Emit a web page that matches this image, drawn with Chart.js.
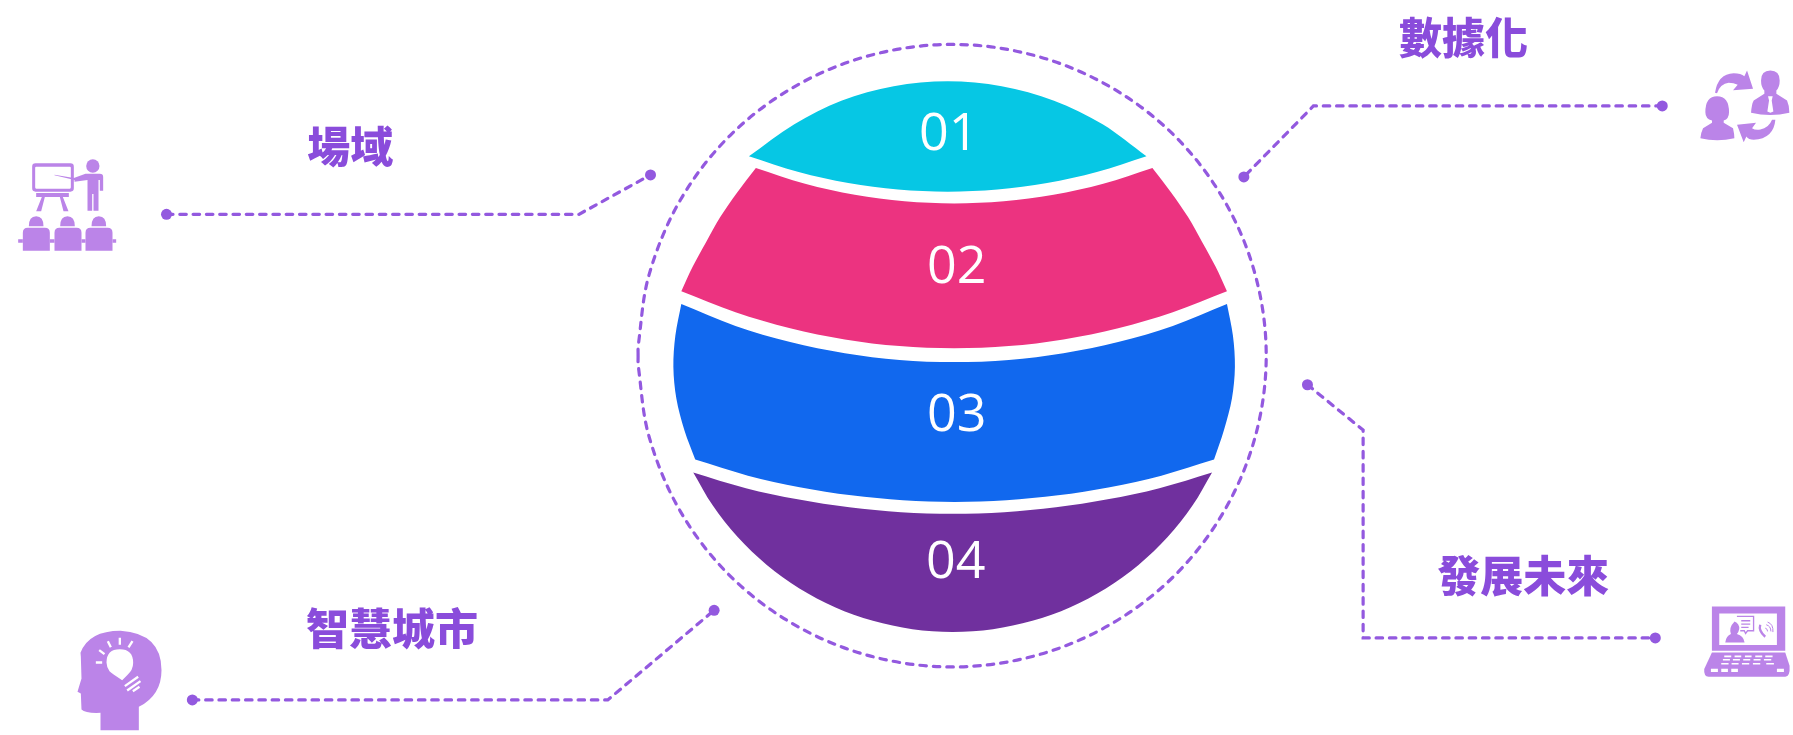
<!DOCTYPE html>
<html lang="zh-Hant">
<head>
<meta charset="utf-8">
<title>數據化</title>
<script src="https://cdn.jsdelivr.net/npm/chart.js@4/dist/chart.umd.min.js"></script>
<style>
    html, body { margin: 0; padding: 0; background: #fff; overflow: hidden; }
    canvas { display: block; }
</style>
</head>
<body>
<canvas id="grafica" width="1793" height="735"></canvas>
<script>
// bandas de la esfera (esquina repetida = esquina viva)
const banda1 = [[748,153],[748,153],[793.7,120.5],[841,96.6],[893.7,82],[948,77],[1002.3,82],[1055,96.6],[1103.9,120.5],[1148,153],[1148,153],
    [1098,169],[1048,180.2],[998,186.8],[948,189],[898,186.8],[848,180.2],[798,169],[748,153]];
const banda2 = [[755,165],[755,165],[804.5,181],[854.5,192.2],[904.5,198.8],[954.5,201],[1004.5,198.8],[1054.5,192.2],[1104.5,181],[1154,165],[1154,165],
    [1173,190],[1190,215],[1204,240],[1217.5,265],[1229,290],[1229,290],
    [1174.5,311.3],[1119.5,327.6],[1064.5,339],[1009.5,345.8],[954.5,348],[899.5,345.8],[844.5,339],[789.5,327.6],[734.5,311.3],[680,290],[680,290],
    [691.5,265],[705,240],[719,215],[736,190],[755,165]];
const banda3 = [[680,303],[680,303],[734.5,325.3],[789.5,341.6],[844.5,353],[899.5,359.8],[954.5,362],[1009.5,359.8],[1064.5,353],[1119.5,341.6],[1174.5,325.3],[1229,303],[1229,303],
    [1235,335],[1237,367],[1234,399],[1226,431],[1216,461],[1216,461],
    [1163,477.3],[1111,489],[1059,497.3],[1007,502.3],[955,504],[903,502.3],[851,497.3],[799,489],[747,477.3],[694,461],[694,461],
    [683,431],[675,399],[672,367],[674,335],[680,303]];
const banda4 = [[692,474],[692,474],[745,490],[797,501.3],[849,509.5],[901,514.4],[953,516],[1005,514.4],[1057,509.5],[1109,501.3],[1161,490],[1214,474],[1214,474],
    [1194.3,507.7],[1169.3,539.7],[1140,567.9],[1107.2,591.8],[1071.4,610.8],[1033.2,624.7],[993.5,633.2],[953,636],
    [912.5,633.2],[872.8,624.7],[834.6,610.8],[798.8,591.8],[766,567.9],[736.7,539.7],[711.7,507.7],[692,474]];
const coloresBandas = ['#06c7e4', '#ec3380', '#1168ee', '#70309e'];

const etiquetasBandas = ['01', '02', '03', '04'];
const posEtiquetas = [[949,132],[957,267],[957,417],[956,566]];

const titulos = ['場域', '數據化', '發展未來', '智慧城市'];
const posTitulos = [[347,143],[1467,33],[1527,579],[389,633]];

// circulo punteado exterior
const circulo = [[636.5,355.5],[636.7,345],[647.5,273.5],[679,197.5],[729,132],[794.5,82],[870.5,50.5],[952.5,39.5],[1034.5,50.5],[1110.5,82],[1176,132],[1226,197.5],[1257.5,273.5],
    [1268.5,355.5],[1257.5,437.5],[1226,513.5],[1176,579],[1110.5,629],[1034.5,660.5],[952.5,671.5],[870.5,660.5],[794.5,629],[729,579],[679,513.5],[647.5,437.5],[636.7,366],[636.5,355.5]];

// conectores
const linea1 = [[162,212],[577,212],[649,172]];
const linea2 = [[1667,102],[1316,102],[1246,174]];
const linea3 = [[1310,385],[1366,431],[1366,642],[1660,642]];
const linea4 = [[188,705],[606,705],[713,614]];
const conectores = [linea1, linea2, linea3, linea4];

const MORADO = '#9359df';
const LILA = '#bb84e8';
const xy = arr => arr.map(p => ({ x: p[0], y: p[1] }));

const datasets = [];

[banda1, banda2, banda3, banda4].forEach((b, i) => {
    datasets.push({
        data: xy(b), showLine: true, tension: 0.33, fill: 'shape',
        backgroundColor: coloresBandas[i], borderWidth: 0, pointRadius: 0
    });
});

datasets.push({
    data: xy(circulo), showLine: true, tension: 0.34, fill: false,
    borderColor: MORADO, borderWidth: 3.2, borderDash: [6.5, 7], borderCapStyle: 'round', pointRadius: 0
});

conectores.forEach(l => {
    datasets.push({
        data: xy(l), showLine: true, fill: false, tension: 0,
        borderColor: MORADO, borderWidth: 3.2, borderDash: [6.5, 6.8], borderCapStyle: 'round',
        pointRadius: ctx => (ctx.dataIndex === 0 || ctx.dataIndex === l.length - 1) ? 5.5 : 0,
        pointBackgroundColor: MORADO, pointBorderWidth: 0
    });
});

// iconos: trazos en coordenadas del recorte ampliado x3
const iconos = [
    { origen: [0, 100], trazos: [
        { c: LILA, d: 'M90 178H195Q205 178 205 188V253Q205 263 195 263H90Q80 263 80 253V188Q80 178 90 178ZM92 188Q89 188 89 191V250Q89 254 92 254H193Q196 254 196 250V191Q196 188 193 188Z' },
        { c: LILA, d: 'M92 267H190V279H172L189 322H174L163 279H118L107 322H92L109 279H92Z' },
        { c: LILA, d: 'M242 186A20 20 0 1 0 282 186A20 20 0 1 0 242 186Z' },
        { c: LILA, d: 'M240 209H283Q293 209 293 219V260H283V228H279V320H264V270H260V320H246V228L207 233V228L198 226L147 214V212L205 222Z' },
        { c: LILA, d: 'M70 367Q70 337 92 337Q114 337 114 367ZM164 367Q164 337 186 337Q208 337 208 367ZM258 367Q258 337 280 337Q302 337 302 367Z' },
        { c: LILA, d: 'M52 440V386Q52 371 67 371H118Q133 371 133 386V440ZM147 440V386Q147 371 162 371H213Q228 371 228 386V440ZM240 440V386Q240 371 255 371H306Q321 371 321 386V440Z' },
        { c: LILA, d: 'M38 406H52V416H38ZM133 406H147V416H133ZM228 406H240V416H228ZM321 406H332V416H321Z' }
    ] },
    { origen: [1380, 0], trazos: [
        { c: LILA, d: 'M1180 195Q1208 195 1208 225Q1208 245 1198 255V265L1230 285Q1237 300 1237 322Q1180 335 1122 322Q1124 295 1130 285L1162 265V255Q1152 245 1152 225Q1152 195 1180 195Z' },
        { c: '#fff', d: 'M1173 272H1187L1184 285L1189 318L1180 322L1171 318L1176 285Z' },
        { c: LILA, d: 'M1020 272Q1056 272 1056 320Q1056 340 1040 345V352L1068 368Q1072 385 1072 398Q1020 410 970 398Q972 380 978 368L1005 352V345Q985 340 985 320Q985 272 1020 272Z' },
        { c: LILA, d: 'M1014 262Q1022 205 1070 203Q1092 203 1102 212L1110 195L1128 250L1068 254L1082 238Q1070 232 1055 232Q1030 235 1020 263Z' },
        { c: LILA, d: 'M1195 343Q1190 400 1130 403Q1115 403 1108 393L1100 410L1080 358L1137 352L1125 368Q1135 375 1150 372Q1175 368 1185 343Z' }
    ] },
    { origen: [0, 580], trazos: [
        { c: LILA, d: 'M225 228Q250 162 345 162Q468 170 468 280Q468 355 400 390V460H285V408Q240 410 228 398L226 350L216 345L228 305L226 240Z' },
        { c: '#fff', d: 'M343 217Q383 217 383 258Q383 280 365 295L350 310Q320 290 312 283Q303 270 303 257Q303 217 343 217Z' },
        { c: '#fff', s: 7, d: 'M343 183V204M307 193L316 211M281 220L297 232M271 257H290M381 193L369 212M358 328L398 300M365 341L405 313M382 343L402 330' }
    ] },
    { origen: [1400, 540], trazos: [
        { c: LILA, d: 'M945 207H1165V340H945ZM967 228V323H1140V228Z' },
        { c: LILA, d: 'M945 345H1165L1178 385Q1180 418 1165 418H935Q920 418 922 395Z' },
        { c: '#fff', s: 5, d: 'M982 357H1003M1013 357H1033M1044 357H1064M1075 357H1096M1105 357H1127M978 367H999M1008 367H1029M1039 367H1060M1070 367H1091M1101 367H1123M973 379H995M1004 379H1025M1035 379H1057M1068 379H1090M1108 379H1131' },
        { c: '#fff', s: 10, d: 'M942 399H963M973 399H993M1003 399H1023M1140 399H1161' },
        { c: LILA, d: 'M985 315Q988 295 1002 290Q995 270 1013 252Q1028 258 1027 275Q1025 285 1020 290Q1040 295 1043 315Z' },
        { c: LILA, s: 4, d: 'M1020 237H1070V280H1052L1046 288L1042 280H1030M1033 250H1060M1033 260H1060M1033 270H1055' },
        { c: LILA, s: 7, d: 'M1090 262Q1084 280 1105 298' },
        { c: LILA, s: 3, d: 'M1105 272Q1112 274 1112 282M1108 262Q1122 266 1122 282M1112 254Q1130 260 1128 284' }
    ] }
];

const rotulos = {
    id: 'rotulos',
    afterDatasetsDraw(chart) {
        const { ctx, scales: { x, y } } = chart;
        ctx.save();

        iconos.forEach(ic => {
            ctx.save();
            ctx.translate(x.getPixelForValue(ic.origen[0]), y.getPixelForValue(ic.origen[1]));
            ctx.scale(1 / 3, 1 / 3);
            ic.trazos.forEach(t => {
                const p = new Path2D(t.d);
                if (t.s) {
                    ctx.strokeStyle = t.c;
                    ctx.lineWidth = t.s;
                    ctx.stroke(p);
                } else {
                    ctx.fillStyle = t.c;
                    ctx.fill(p, 'evenodd');
                }
            });
            ctx.restore();
        });

        ctx.textAlign = 'center';
        ctx.textBaseline = 'middle';

        ctx.fillStyle = '#ffffff';
        ctx.font = '400 52px "Open Sans"';
        etiquetasBandas.forEach((t, i) => {
            ctx.fillText(t, x.getPixelForValue(posEtiquetas[i][0]), y.getPixelForValue(posEtiquetas[i][1]));
        });

        ctx.fillStyle = '#8a4cdb';
        ctx.font = '900 43px "Noto Sans CJK TC"';
        titulos.forEach((t, i) => {
            ctx.fillText(t, x.getPixelForValue(posTitulos[i][0]), y.getPixelForValue(posTitulos[i][1]));
        });

        ctx.restore();
    }
};

new Chart(document.getElementById('grafica').getContext('2d'), {
    type: 'scatter',
    data: { datasets },
    plugins: [rotulos],
    options: {
        responsive: false,
        animation: false,
        layout: { padding: 0 },
        plugins: { legend: { display: false }, tooltip: { enabled: false } },
        scales: {
            x: { type: 'linear', min: 0, max: 1793, display: false },
            y: { type: 'linear', min: 0, max: 735, reverse: true, display: false }
        }
    }
});
</script>
</body>
</html>
